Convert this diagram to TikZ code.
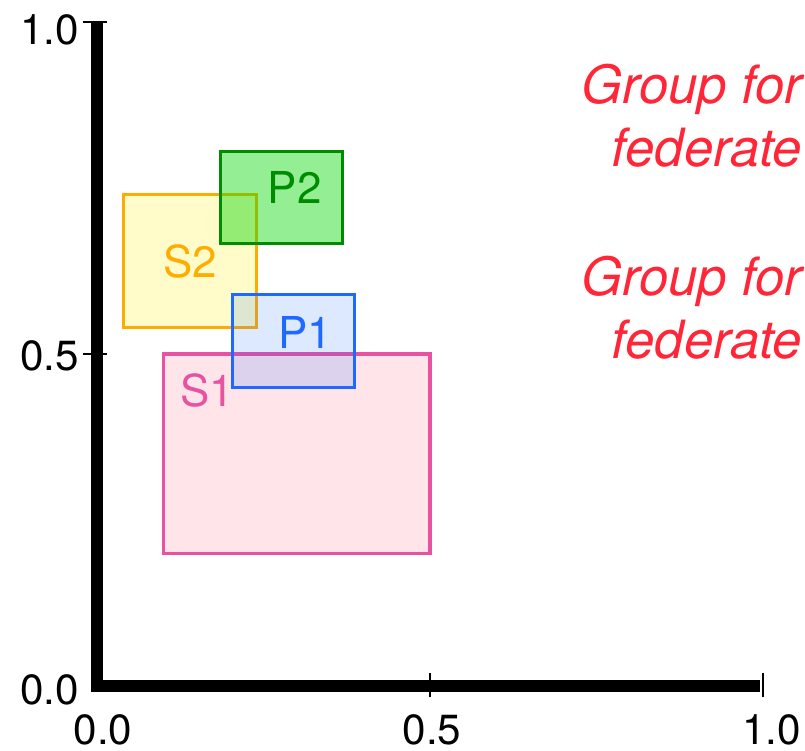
\documentclass[tikz,border=0pt]{standalone}
\usepackage{fontspec}
\setmainfont{TeX Gyre Heros}
\usetikzlibrary{positioning}
\definecolor{sonepink}{RGB}{232,82,160}
\definecolor{sonefill}{RGB}{255,120,150}
\definecolor{poneblue}{RGB}{30,105,255}
\definecolor{stwoorange}{RGB}{255,172,0}
\definecolor{stwoyellow}{RGB}{255,248,120}
\definecolor{ptwogreen}{RGB}{0,140,0}
\definecolor{ptwofill}{RGB}{0,215,0}
\definecolor{groupred}{RGB}{255,38,56}

\begin{document}
\begin{tikzpicture}[
  axisline/.style={line width=3.4pt, black},
  tickline/.style={line width=0.8pt, black},
  ticklabel/.style={font=\fontsize{12}{14}\selectfont, inner sep=0pt},
  region/.style={line width=0.9pt},
  reglabel/.style={font=\fontsize{12.5}{14}\selectfont, inner sep=0pt},
  grouptext/.style={font=\fontsize{15}{18}\selectfont\itshape, text=groupred, align=right, inner sep=0pt}
]
  \clip (0,0) rectangle (8.05,7.5);
  \begin{scope}[shift={(0.97,0.64)}, x=6.66cm, y=6.64cm]
    % regions
    \draw[region, sonepink, fill=sonefill, fill opacity=0.2] (0.1,0.2) rectangle (0.5,0.5);
    \draw[region, stwoorange, fill=stwoyellow, fill opacity=0.4] (0.04,0.54) rectangle (0.24,0.74);
    \draw[region, poneblue, fill=poneblue, fill opacity=0.15] (0.204,0.449) rectangle (0.387,0.589);
    \draw[region, ptwogreen, fill=ptwofill, fill opacity=0.42] (0.186,0.667) rectangle (0.368,0.805);
    \node[reglabel, text=sonepink] (lblSone) at (0.165,0.445) {S1};
    \node[reglabel, text=stwoorange] (lblStwo) at (0.14,0.639) {S2};
    \node[reglabel, text=poneblue] (lblPone) at (0.313,0.532) {P1};
    \node[reglabel, text=ptwogreen] (lblPtwo) at (0.297,0.751) {P2};

    % axes
    \draw[axisline] (0,1) -- (0,-0.009);
    \draw[axisline] (0,0) -- (0.995,0);
    \draw[tickline] (-0.021,1) -- (0.015,1);
    \draw[tickline] (-0.021,0.5) -- (0.015,0.5);
    \draw[tickline] (0.5,-0.017) -- (0.5,0.02);
    \draw[tickline] (1,-0.017) -- (1,0.02);
    \node[ticklabel, anchor=east] (ylabten) at (-0.026,0.988) {1.0};
    \node[ticklabel, anchor=east] (ylabfive) at (-0.026,0.497) {0.5};
    \node[ticklabel, anchor=east] (ylabzero) at (-0.026,-0.006) {0.0};
    \node[ticklabel] (xlabzero) at (0.009,-0.066) {0.0};
    \node[ticklabel] (xlabfive) at (0.503,-0.066) {0.5};
    \node[ticklabel] (xlabten) at (1.013,-0.066) {1.0};
  \end{scope}
  \node[grouptext, anchor=north east] (groupone) at (8.03,6.87) {Group for\\federate};
  \node[grouptext, anchor=north east] (grouptwo) at (8.03,4.95) {Group for\\federate};
\end{tikzpicture}
\end{document}
